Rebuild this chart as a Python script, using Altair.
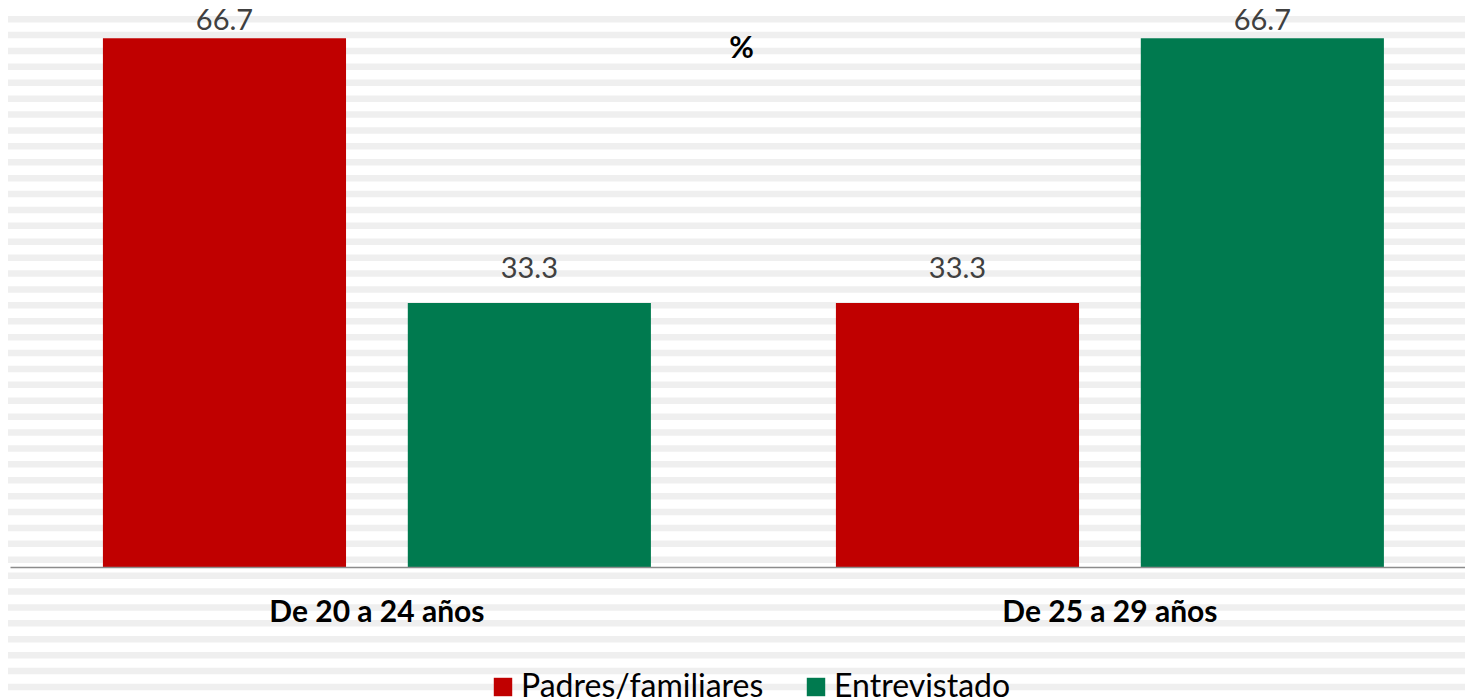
import altair as alt
import pandas as pd

groups = ["De 20 a 24 años", "De 20 a 24 años", "De 25 a 29 años", "De 25 a 29 años"]
series = ["Padres/familiares", "Entrevistado", "Padres/familiares", "Entrevistado"]
values = [66.7, 33.3, 33.3, 66.7]

series_order = ["Padres/familiares", "Entrevistado"]
colors = ["#C00000", "#007A4F"]

df = pd.DataFrame({"grupo": groups, "serie": series, "valor": values})

FONT = "Lato"
W, H = 1455, 555

x_enc = alt.X("grupo:N", title=None, sort=None,
              scale=alt.Scale(paddingInner=0.2524, paddingOuter=0.1187, align=0.534),
              axis=alt.Axis(labelAngle=0, labelFont=FONT, labelFontSize=30,
                            labelFontWeight="bold", labelColor="#000000", labelLimit=0,
                            labelPadding=30, ticks=False, domainColor="#8c8c8c",
                            domainWidth=1.5, grid=False, zindex=1))
xo_enc = alt.XOffset("serie:N", sort=series_order,
                     scale=alt.Scale(paddingInner=0.2026, paddingOuter=0))
y_enc = alt.Y("valor:Q", scale=alt.Scale(domain=[0, 70]), axis=None)

# background stripes (decoration)
stripes = alt.Chart(alt.sequence(0, 44, as_="k")).mark_rule(
    color="#efefef", strokeWidth=6.5
).encode(
    y=alt.Y("k:Q", scale=alt.Scale(domain=[0, 44], range=[-8.75, -8.75 + 44 * 15.9]), axis=None),
    x=alt.value(-2), x2=alt.value(W),
)

base = alt.Chart(df).encode(x=x_enc, xOffset=xo_enc, y=y_enc)

bars = base.mark_bar().encode(
    color=alt.Color("serie:N", sort=series_order,
                    scale=alt.Scale(domain=series_order, range=colors),
                    legend=alt.Legend(title=None, orient="none", legendX=477, legendY=659,
                                      direction="horizontal", symbolType="square",
                                      symbolSize=340, symbolStrokeWidth=0, labelLimit=0,
                                      labelFont=FONT, labelFontSize=32, labelColor="#000000",
                                      labelOffset=2, columnPadding=36, symbolOpacity=1))
)

text_style = dict(baseline="alphabetic", font=FONT, fontSize=29, color="#404040")
labels_hi = base.transform_filter("datum.valor > 50").mark_text(dy=-8, **text_style).encode(
    text=alt.Text("valor:Q", format=".1f"))
labels_lo = base.transform_filter("datum.valor <= 50").mark_text(dy=-25, **text_style).encode(
    text=alt.Text("valor:Q", format=".1f"))

bars_layer = alt.layer(bars, labels_hi, labels_lo)

chart = alt.layer(stripes, bars_layer).resolve_scale(y="independent").properties(
    width=W, height=H,
    autosize=alt.AutoSizeParams(type="none"),
    padding={"left": 2, "top": 4, "right": 0, "bottom": 132},
    title=alt.TitleParams("%", frame="group", anchor="middle", font=FONT, fontSize=30,
                          fontWeight="bold", color="#000000", baseline="alphabetic",
                          offset=0, dy=88, dx=4),
    background="#ffffff",
).configure_view(stroke=None)

chart.save("out.html", embed_options={"renderer": "svg", "actions": False})
